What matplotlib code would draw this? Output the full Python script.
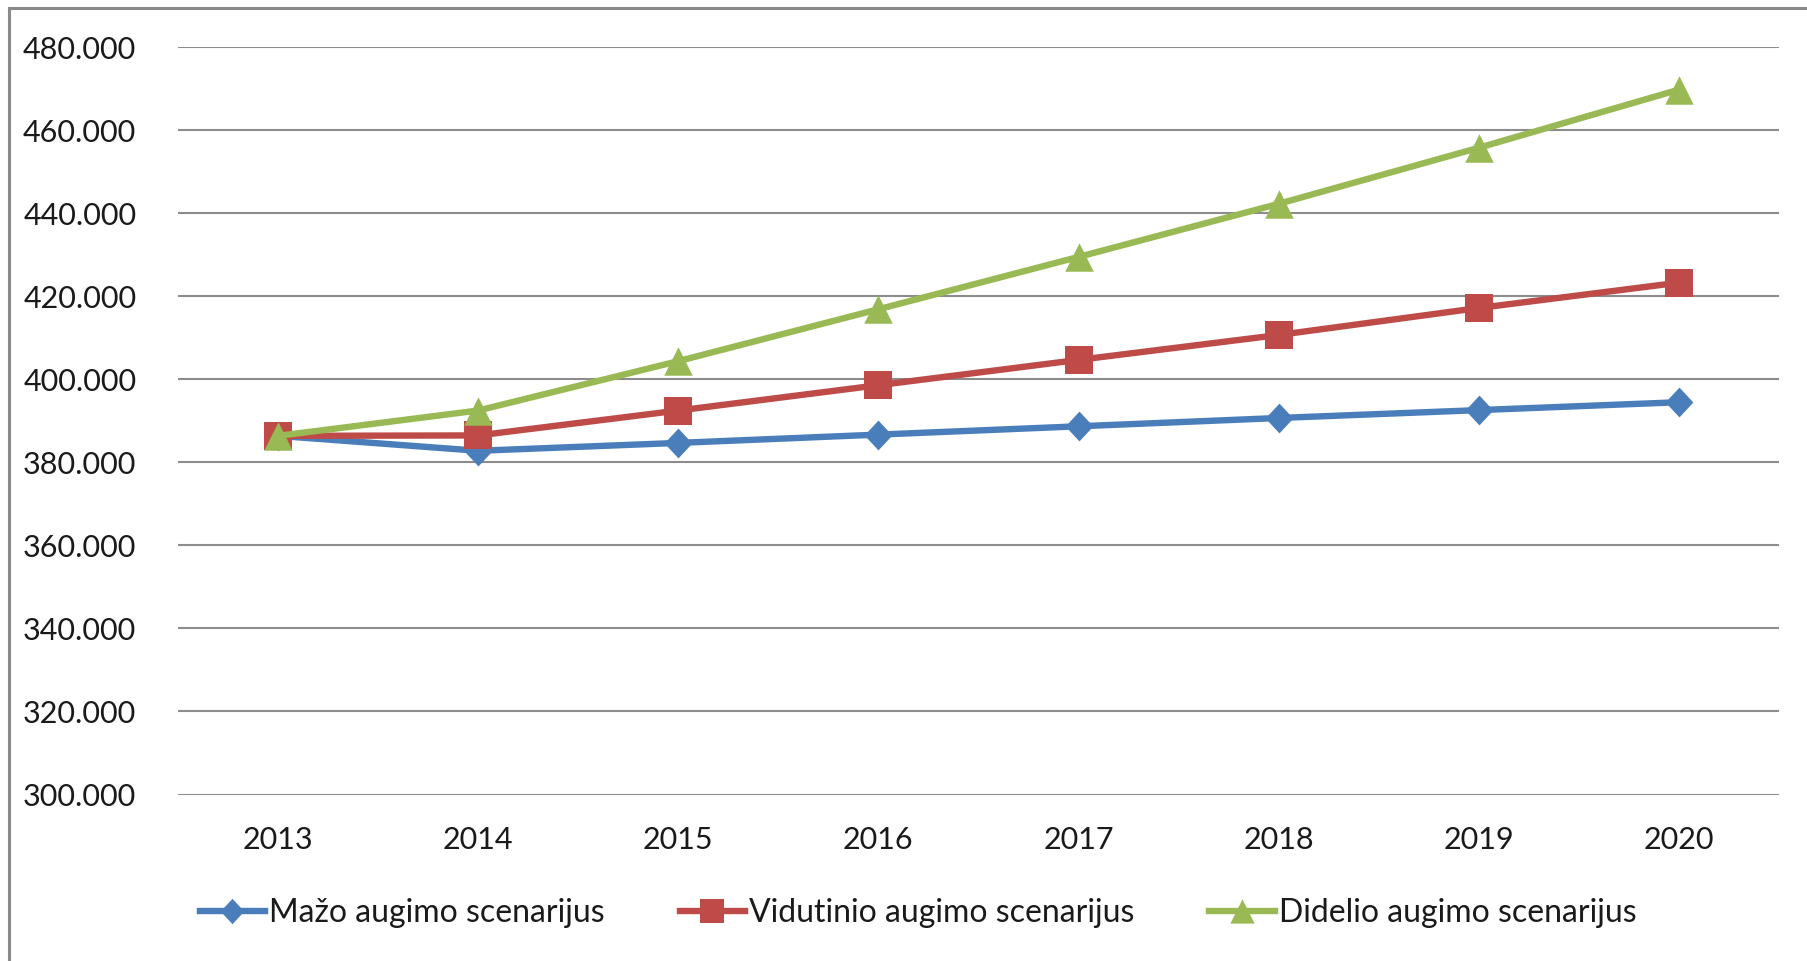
import matplotlib
matplotlib.use("Agg")
import matplotlib.pyplot as plt
from matplotlib.patches import Rectangle
from matplotlib.ticker import FuncFormatter, MultipleLocator

years = ["2013", "2014", "2015", "2016", "2017", "2018", "2019", "2020"]
mazo = [386.4, 382.8, 384.7, 386.7, 388.7, 390.7, 392.6, 394.5]
vidutinio = [386.4, 386.5, 392.5, 398.6, 404.7, 410.7, 417.2, 423.3]
didelio = [386.4, 392.5, 404.4, 416.9, 429.5, 442.3, 455.8, 469.8]
series_names = ["Mažo augimo scenarijus", "Vidutinio augimo scenarijus", "Didelio augimo scenarijus"]

colors = ["#4A7EBB", "#BE4B48", "#98B954"]
FONT = "Lato"
plt.rcParams['font.family'] = [FONT, 'DejaVu Sans']

W, H = 1808, 961
fig = plt.figure(figsize=(W / 100, H / 100), dpi=100)
ax = fig.add_axes([178 / W, 1 - 794.5 / H, (1779 - 178) / W, (794.5 - 47.3) / H])

diamond = [(0, -1), (0.93, 0), (0, 1), (-0.93, 0)]
square = [(-1, -1), (1, -1), (1, 1), (-1, 1)]
triangle = [(-1, -1), (1, -1), (0, 1)]

LW = 4.6
x = list(range(len(years)))
ax.plot(x, mazo, color=colors[0], lw=LW, marker=diamond, ms=21.5, mec=colors[0], mew=0,
        label=series_names[0], zorder=3)
ax.plot(x, vidutinio, color=colors[1], lw=LW, marker=square, ms=19.5, mec=colors[1], mew=0,
        label=series_names[1], zorder=4)
ax.plot(x, didelio, color=colors[2], lw=LW, marker=triangle, ms=20.5, mec=colors[2], mew=0,
        label=series_names[2], zorder=5)

ax.set_xlim(-0.5, len(years) - 0.5)
ax.set_ylim(300, 480)
ax.yaxis.set_major_locator(MultipleLocator(20))
ax.yaxis.set_major_formatter(FuncFormatter(lambda v, p: f"{int(round(v))}.000"))
ax.set_xticks(x)
ax.set_xticklabels(years)
ax.grid(axis='y', color='#8c8c8c', lw=1.5)
ax.set_axisbelow(True)
for s in ax.spines.values():
    s.set_visible(False)
ax.tick_params(axis='both', length=0, labelsize=22, colors='#1a1a1a')
ax.tick_params(axis='y', pad=30)
ax.tick_params(axis='x', pad=23)

leg = fig.legend(loc='center', bbox_to_anchor=(918 / W, 1 - 913 / H), ncol=3, frameon=False,
                 fontsize=23, handlelength=2.05, handletextpad=0.12, columnspacing=2.35,
                 markerscale=0.85)
for t in leg.get_texts():
    t.set_color('#1a1a1a')

fig.patches.append(Rectangle((9 / W, -0.1), 1.2, (1 - 8 / H) + 0.1, transform=fig.transFigure,
                             fill=False, edgecolor='#8a8a8a', lw=2.2, figure=fig))

fig.savefig("out.png", dpi=100)
